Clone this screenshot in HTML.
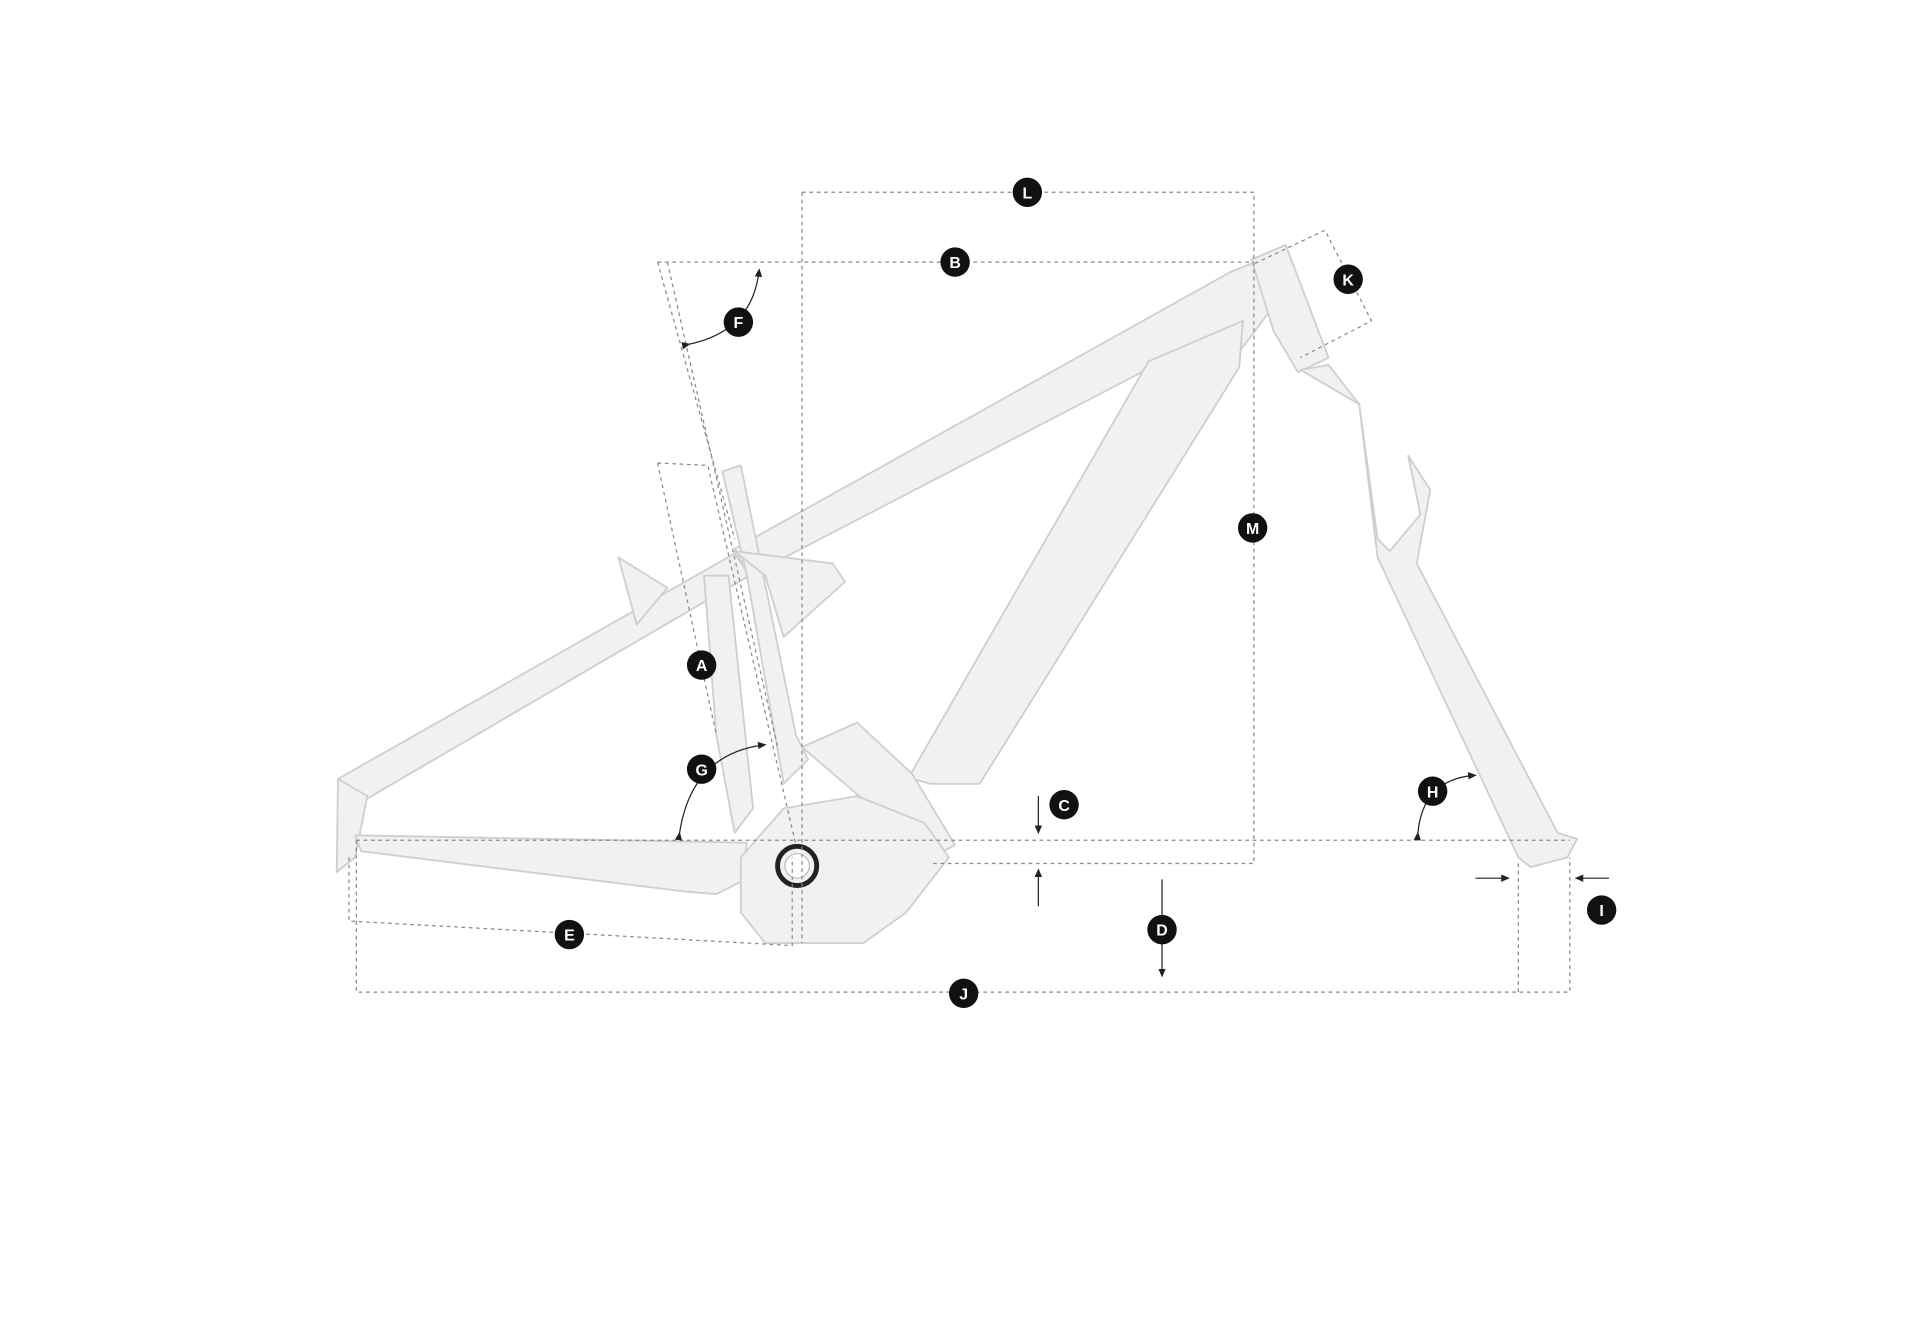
<!DOCTYPE html>
<html><head><meta charset="utf-8"><style>html,body{margin:0;padding:0;background:#fff}svg{display:block}</style></head><body>
<svg width="1920" height="1324" viewBox="0 0 1568 1081" preserveAspectRatio="none" xmlns="http://www.w3.org/2000/svg">
<defs><marker id="ar" markerWidth="8" markerHeight="8" refX="6" refY="4" orient="auto"><path d="M0,1 L7,4 L0,7 Z" fill="#222"/></marker></defs>
<g fill="#f1f1f1" stroke="#cfcfcf" stroke-width="1.5" stroke-linejoin="round">
<!-- seat stays -->
<path d="M276,636 L600,452 L612,470 L300,652 Z"/>
<!-- top tube -->
<path d="M600,448 L1005,222 L1030,212 L1040,250 L1010,290 L990,285 L940,300 L612,470 Z"/>
<!-- head tube -->
<path d="M1022,212 L1050,200 L1085,292 L1060,304 L1040,270 Z"/>
<!-- down tube -->
<path d="M938,295 L1015,262 L1012,300 L800,640 L760,640 L742,635 Z"/>
<path d="M655,610 L700,590 L745,632 L780,690 L760,700 Z"/>
<!-- seat tube / linkage -->
<path d="M590,385 L605,380 L650,600 L660,620 L640,640 L610,470 Z"/>
<path d="M600,450 L680,460 L690,475 L640,520 L625,470 Z"/>
<path d="M575,470 L595,470 L615,660 L600,680 L585,600 Z"/>
<path d="M505,455 L545,480 L520,510 Z"/>
<!-- chainstay -->
<path d="M276,636 L300,650 L290,700 L275,712 Z"/>
<path d="M290,682 L610,688 L605,720 L585,730 L560,728 L295,695 Z"/>
<!-- motor -->
<path d="M605,700 L640,660 L700,650 L755,672 L775,700 L740,745 L705,770 L625,770 L605,745 Z"/>
<!-- fork -->
<path d="M1062,302 L1085,298 L1110,330 L1125,440 L1135,450 L1160,420 L1150,372 L1168,400 L1157,460 L1272,680 L1288,685 L1280,700 L1250,708 L1240,700 L1125,455 L1110,330 Z"/>
</g>
<circle cx="651" cy="707" r="16" fill="none" stroke="#222" stroke-width="4"/>
<circle cx="651" cy="707" r="10" fill="#fff" stroke="#bbb"/>
<g fill="none" stroke="#888" stroke-width="1" stroke-dasharray="3,3">
<path d="M655,157 L1024,157 L1024,705 L760,705"/>
<path d="M655,157 L655,770"/>
<path d="M537,214 L1024,214"/>
<path d="M537,214 L600,440 M545,214 L635,610"/>
<path d="M537,378 L578,380 L650,690 M537,378 L585,600"/>
<path d="M1025,215 L1082,188 L1120,262 L1062,292"/>
<path d="M291,686 L1282,686"/>
<path d="M291,686 L291,810 L1282,810 L1282,700 M1240,705 L1240,810"/>
<path d="M285,700 L285,752 L647,772 L647,700"/>
</g>
<g fill="none" stroke="#222" stroke-width="1">
<path d="M563,281 Q615,270 620,220" marker-start="url(#ar)" marker-end="url(#ar)"/>
<path d="M555,680 Q565,615 625,608" marker-start="url(#ar)" marker-end="url(#ar)"/>
<path d="M1158,680 Q1162,636 1205,633" marker-start="url(#ar)" marker-end="url(#ar)"/>
<path d="M848,650 L848,680" marker-end="url(#ar)"/>
<path d="M848,740 L848,710" marker-end="url(#ar)"/>
<path d="M949,718 L949,797" marker-end="url(#ar)"/>
<path d="M1205,717 L1232,717" marker-end="url(#ar)"/>
<path d="M1314,717 L1287,717" marker-end="url(#ar)"/>
</g>
<g font-family="Liberation Sans, sans-serif" font-weight="bold" font-size="13" fill="#fff" text-anchor="middle">
<g><circle cx="839" cy="157" r="12" fill="#111"/><text x="839" y="162">L</text></g>
<g><circle cx="780" cy="214" r="12" fill="#111"/><text x="780" y="219">B</text></g>
<g><circle cx="1101" cy="228" r="12" fill="#111"/><text x="1101" y="233">K</text></g>
<g><circle cx="603" cy="263" r="12" fill="#111"/><text x="603" y="268">F</text></g>
<g><circle cx="1023" cy="431" r="12" fill="#111"/><text x="1023" y="436">M</text></g>
<g><circle cx="573" cy="543" r="12" fill="#111"/><text x="573" y="548">A</text></g>
<g><circle cx="573" cy="628" r="12" fill="#111"/><text x="573" y="633">G</text></g>
<g><circle cx="869" cy="657" r="12" fill="#111"/><text x="869" y="662">C</text></g>
<g><circle cx="1170" cy="646" r="12" fill="#111"/><text x="1170" y="651">H</text></g>
<g><circle cx="1308" cy="743" r="12" fill="#111"/><text x="1308" y="748">I</text></g>
<g><circle cx="949" cy="759" r="12" fill="#111"/><text x="949" y="764">D</text></g>
<g><circle cx="465" cy="763" r="12" fill="#111"/><text x="465" y="768">E</text></g>
<g><circle cx="787" cy="811" r="12" fill="#111"/><text x="787" y="816">J</text></g>
</g>
</svg>
</body></html>
